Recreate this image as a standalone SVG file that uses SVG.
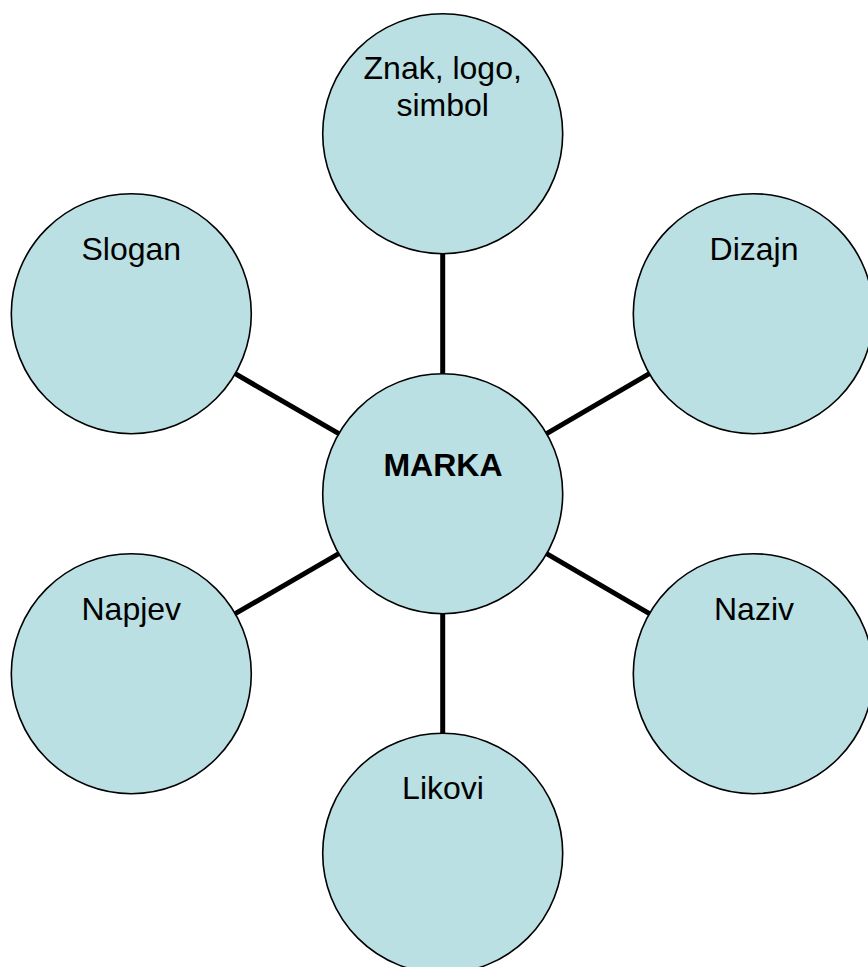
<svg xmlns="http://www.w3.org/2000/svg" width="868" height="967" viewBox="0 0 868 967">
  <style>
    .node circle { fill: #BAE0E3; stroke: #000; stroke-width: 1.6; }
    .node text { font-family: "Liberation Sans", Arial, sans-serif; font-size: 32px; fill: #000; text-anchor: middle; }
    .node text.bold { font-weight: bold; }
    #connectors line { stroke: #000; stroke-width: 5; }
  </style>
  <rect width="868" height="967" fill="#fff"/>
  <g id="connectors">
    <line x1="442.7" y1="253.7" x2="442.7" y2="373.7"/>
    <line x1="442.7" y1="613.7" x2="442.7" y2="733.3"/>
    <line x1="546.6" y1="433.7" x2="649.4" y2="373.7"/>
    <line x1="546.6" y1="553.7" x2="649.4" y2="613.7"/>
    <line x1="338.8" y1="433.7" x2="235.2" y2="373.7"/>
    <line x1="338.8" y1="553.7" x2="235.2" y2="613.7"/>
  </g>
  <g id="node-znak" class="node">
    <circle cx="442.7" cy="133.7" r="120"/>
    <text x="442.7" y="79">Znak, logo,</text>
    <text x="442.7" y="116">simbol</text>
  </g>
  <g id="node-dizajn" class="node">
    <circle cx="753.3" cy="313.7" r="120"/>
    <text x="754" y="260">Dizajn</text>
  </g>
  <g id="node-slogan" class="node">
    <circle cx="131.3" cy="313.7" r="120"/>
    <text x="131.3" y="260">Slogan</text>
  </g>
  <g id="node-marka" class="node">
    <circle cx="442.7" cy="493.7" r="120"/>
    <text class="bold" x="443" y="476">MARKA</text>
  </g>
  <g id="node-napjev" class="node">
    <circle cx="131.3" cy="673.7" r="120"/>
    <text x="131.3" y="619.5">Napjev</text>
  </g>
  <g id="node-naziv" class="node">
    <circle cx="753.3" cy="673.7" r="120"/>
    <text x="754" y="619.5">Naziv</text>
  </g>
  <g id="node-likovi" class="node">
    <circle cx="442.7" cy="853.3" r="120"/>
    <text x="443" y="799">Likovi</text>
  </g>
</svg>
